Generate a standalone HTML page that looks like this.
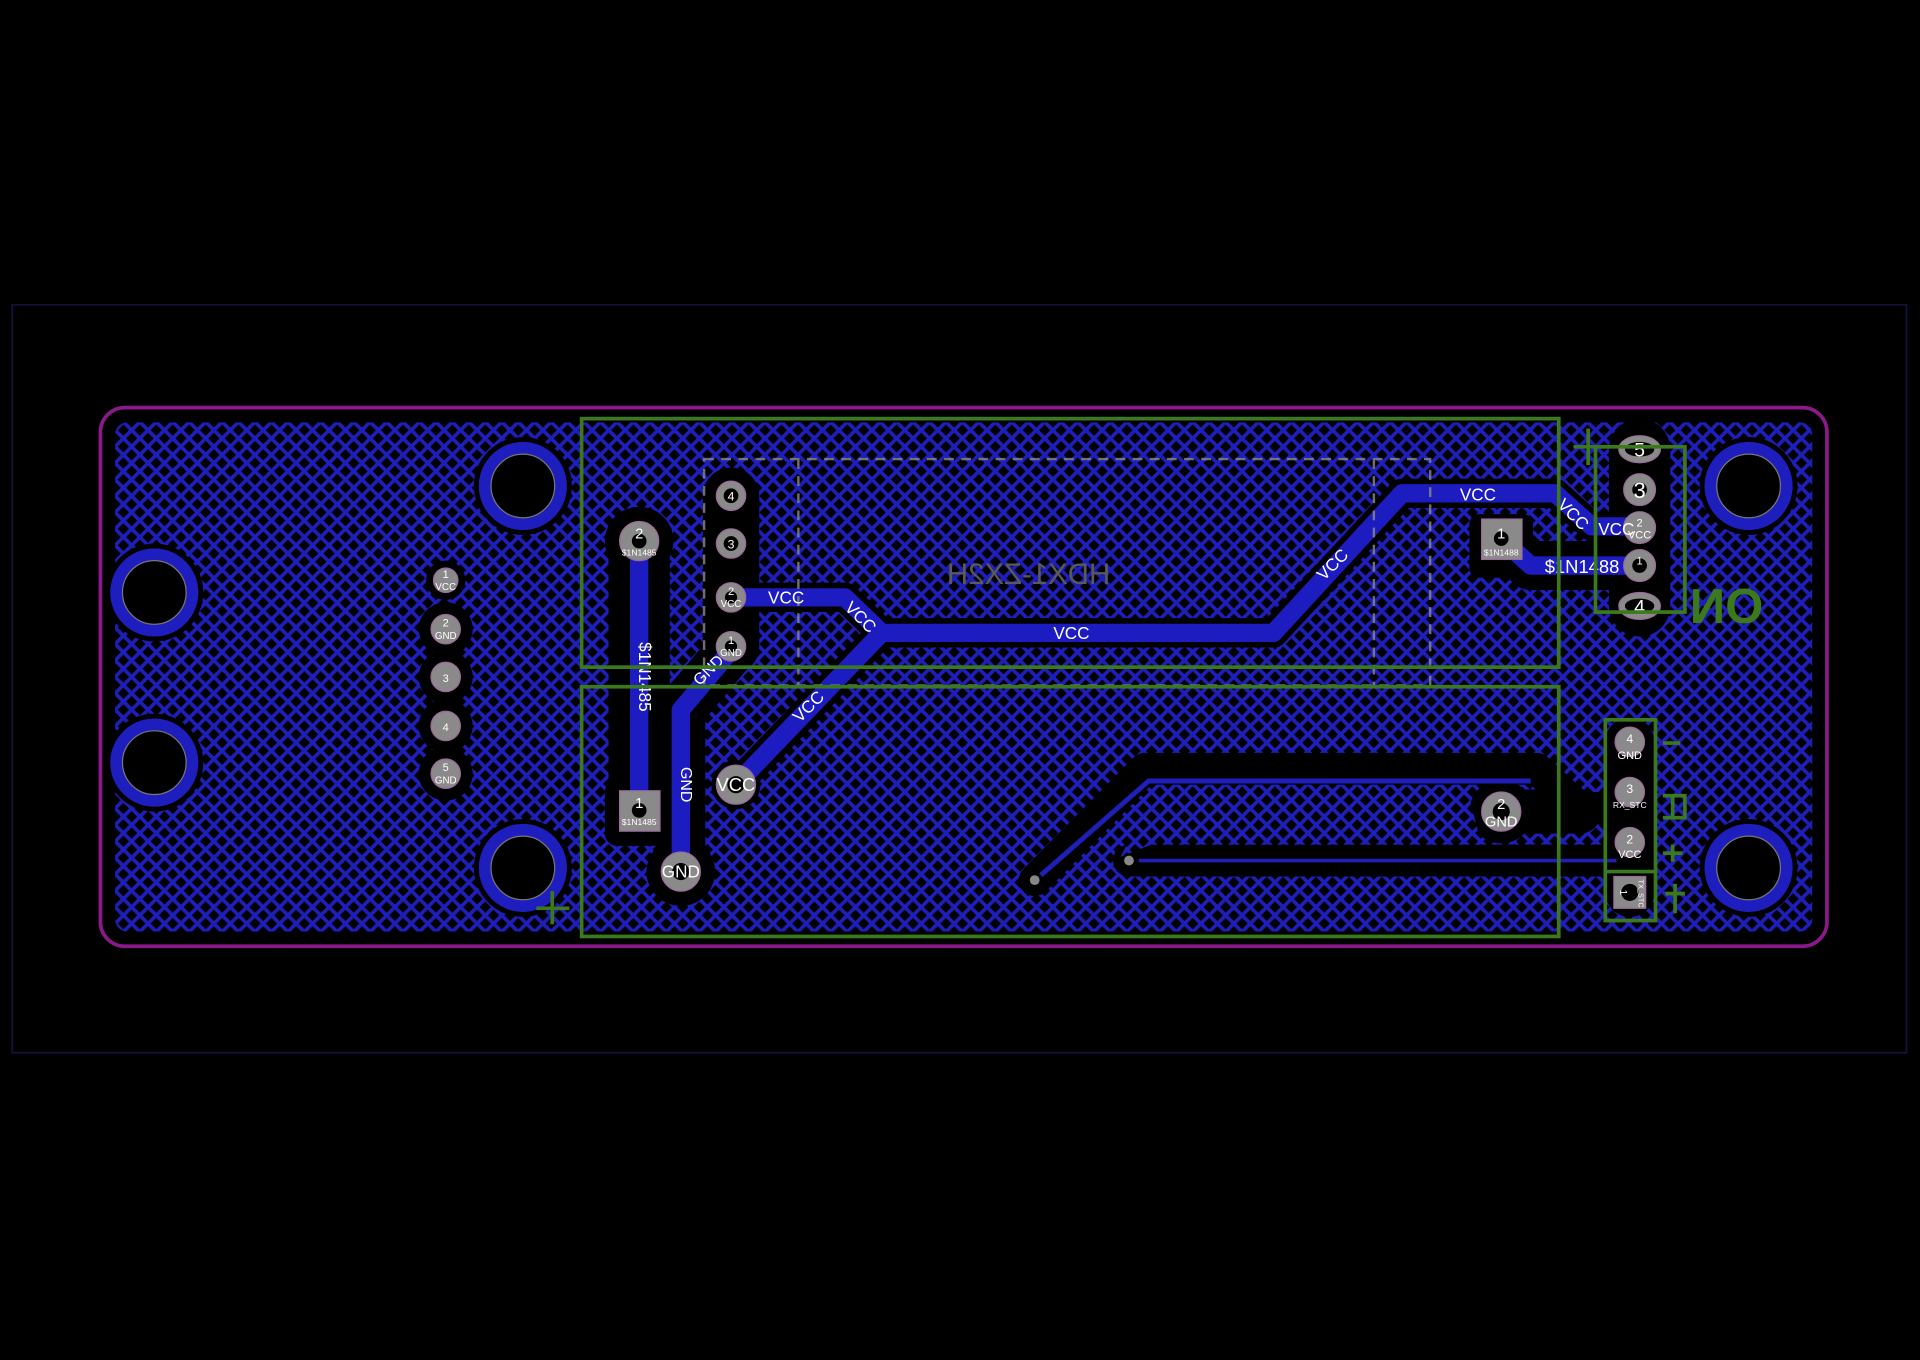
<!DOCTYPE html>
<html><head><meta charset="utf-8"><style>html,body{margin:0;padding:0;background:#000;}svg{display:block}</style></head>
<body>
<svg width="1920" height="1360" viewBox="0 0 1568 1111" preserveAspectRatio="none" xmlns="http://www.w3.org/2000/svg" font-family="Liberation Sans, DejaVu Sans, sans-serif">
<defs>
<pattern id="h" width="9.5" height="9.5" patternUnits="userSpaceOnUse" patternTransform="rotate(45)">
<rect width="9.5" height="9.5" fill="#000"/>
<rect x="0" y="0" width="3" height="9.5" fill="#1e1eb8"/>
<rect x="0" y="0" width="9.5" height="3" fill="#1e1eb8"/>
</pattern>
</defs>
<rect width="1568" height="1111" fill="#000"/>
<rect x="10" y="249" width="1547" height="611" fill="none" stroke="#12123a" stroke-width="1.5"/>
<rect x="82" y="333" width="1410" height="440" rx="20" fill="none" stroke="#8a1a8a" stroke-width="3"/>
<rect x="94" y="345" width="1386" height="416" rx="10" fill="url(#h)"/>

<g stroke="#000" stroke-linecap="round" stroke-linejoin="round" fill="none">
<path d="M522 442 V662" stroke-width="50"/>
<path d="M556 712 V580 L598 530" stroke-width="40"/>
<path d="M597 405 V528" stroke-width="46"/>
<path d="M597 488 H690 L720 517 H1040 L1145 403 H1270 L1300 430 H1338" stroke-width="24"/>
<path d="M601 641 L720 517" stroke-width="24"/>
<path d="M1226 440 L1250 462 H1338" stroke-width="40"/>
<path d="M1339 367 V495" stroke-width="50"/>
<path d="M845 719 L935 628 H1255 L1290 660 H1320" stroke-width="26"/>
<path d="M922 703 H1320" stroke-width="26"/>
<path d="M1226 663 H1290" stroke-width="36"/>
<path d="M1331 606 V729" stroke-width="40"/>
</g>
<g fill="#000">
<rect x="1200" y="420" width="52" height="52" rx="8"/>
<rect x="494" y="637" width="56" height="54" rx="10"/>
<circle cx="556" cy="712" r="28"/>
<circle cx="601" cy="641" r="20"/>
<circle cx="364" cy="474" r="16"/>
<circle cx="364" cy="514" r="22"/><circle cx="364" cy="553" r="22"/><circle cx="364" cy="593" r="22"/><circle cx="364" cy="632" r="22"/>
<circle cx="1226" cy="663" r="26"/>
<circle cx="522" cy="442" r="28"/>
</g>
<path d="M850 715 L938 638 H1250" stroke="#1e1eb8" stroke-width="4" fill="none"/>
<path d="M930 703 H1320" stroke="#1e1eb8" stroke-width="3" fill="none"/>
<path d="M940 652 H1200 L1210 690 H940 L915 700 Z" fill="url(#h)"/>

<g stroke="#777" stroke-width="1">
<g fill="#000" stroke="none">
<circle cx="427" cy="397" r="40"/><circle cx="427" cy="709" r="40"/><circle cx="1428" cy="397" r="40"/><circle cx="1428" cy="709" r="40"/><circle cx="126" cy="484" r="40"/><circle cx="126" cy="623" r="40"/>
</g>
<g fill="#1e1ebe" stroke="none">
<circle cx="427" cy="397" r="36"/><circle cx="427" cy="709" r="36"/><circle cx="1428" cy="397" r="36"/><circle cx="1428" cy="709" r="36"/><circle cx="126" cy="484" r="36"/><circle cx="126" cy="623" r="36"/>
</g>
<g fill="#000">
<circle cx="427" cy="397" r="26"/><circle cx="427" cy="709" r="26"/><circle cx="1428" cy="397" r="26"/><circle cx="1428" cy="709" r="26"/><circle cx="126" cy="484" r="26"/><circle cx="126" cy="623" r="26"/>
</g>
</g>

<g stroke="#1c1cc0" stroke-linecap="round" stroke-linejoin="round" fill="none">
<path d="M522 442 V662" stroke-width="15"/>
<path d="M556 712 V580 L598 530" stroke-width="15"/>
<path d="M597 488 H690 L720 517 H1040 L1145 403 H1270 L1300 430 H1338" stroke-width="15"/>
<path d="M601 641 L720 517" stroke-width="15"/>
<path d="M1226 440 L1250 462 H1338" stroke-width="15"/>
</g>

<g stroke="#8a8a8a" stroke-width="2" stroke-dasharray="8 6" fill="none" opacity="0.8">
<rect x="575" y="375" width="593" height="185"/>
<path d="M652 375 V560 M1122 375 V560"/>
</g>
<text x="840" y="477" font-size="24" fill="#5a5a5a" text-anchor="middle" transform="scale(-1,1) translate(-1680,0)">HDX1-ZX2H</text>

<g fill="#8a8a8a" stroke="#9a6a9a" stroke-width="1">
<circle cx="364" cy="474" r="10"/><circle cx="364" cy="514" r="12"/><circle cx="364" cy="553" r="12"/><circle cx="364" cy="593" r="12"/><circle cx="364" cy="632" r="12"/>
<circle cx="597" cy="405" r="12"/><circle cx="597" cy="444" r="12"/><circle cx="597" cy="488" r="12"/><circle cx="597" cy="528" r="12"/>
<circle cx="522" cy="442" r="16"/>
<rect x="506" y="646" width="33" height="33"/>
<circle cx="556" cy="712" r="16"/>
<circle cx="601" cy="641" r="16"/>
<circle cx="1226" cy="663" r="16"/>
<rect x="1210" y="424" width="33" height="33"/>
<ellipse cx="1339" cy="367" rx="17" ry="11"/><circle cx="1339" cy="400" r="13"/><circle cx="1339" cy="431" r="13"/><circle cx="1339" cy="462" r="13"/><ellipse cx="1339" cy="495" rx="17" ry="11"/>
<circle cx="1331" cy="606" r="12"/><circle cx="1331" cy="647" r="12"/><circle cx="1331" cy="688" r="12"/>
<rect x="1318" y="716" width="26" height="26"/>
</g>
<g fill="#000">
<circle cx="597" cy="405" r="6"/><circle cx="597" cy="444" r="6"/><circle cx="597" cy="528" r="5"/><circle cx="597" cy="488" r="5"/>
<circle cx="522" cy="442" r="6"/><circle cx="522" cy="662" r="6"/><circle cx="556" cy="712" r="7"/><circle cx="601" cy="641" r="7"/>
<circle cx="1226" cy="440" r="6"/><circle cx="1226" cy="663" r="7"/><circle cx="1331" cy="729" r="7"/>
<circle cx="1339" cy="462" r="6"/><circle cx="1339" cy="400" r="6"/>
<ellipse cx="1339" cy="367" rx="12" ry="6"/><ellipse cx="1339" cy="495" rx="12" ry="6"/>
</g>
<circle cx="845" cy="719" r="4" fill="#888"/><circle cx="922" cy="703" r="4" fill="#888"/>

<g fill="#fff" text-anchor="middle">
<text x="364" y="472" font-size="9">1</text><text x="364" y="482" font-size="8">VCC</text>
<text x="364" y="512" font-size="9">2</text><text x="364" y="522" font-size="8">GND</text>
<text x="364" y="557" font-size="9">3</text><text x="364" y="597" font-size="9">4</text>
<text x="364" y="630" font-size="9">5</text><text x="364" y="640" font-size="8">GND</text>
<text x="597" y="409" font-size="10">4</text><text x="597" y="448" font-size="10">3</text>
<text x="597" y="486" font-size="9">2</text><text x="597" y="496" font-size="8">VCC</text>
<text x="597" y="526" font-size="9">1</text><text x="597" y="536" font-size="8">GND</text>
<text x="522" y="440" font-size="12">2</text><text x="522" y="454" font-size="7">$1N1485</text>
<text x="522" y="660" font-size="12">1</text><text x="522" y="674" font-size="7">$1N1485</text>
<text x="556" y="717" font-size="14">GND</text>
<text x="601" y="646" font-size="15">VCC</text>
<text x="1226" y="661" font-size="12">2</text><text x="1226" y="675" font-size="12">GND</text>
<text x="1226" y="440" font-size="12">1</text><text x="1226" y="454" font-size="7">$1N1488</text>
<text x="1339" y="373" font-size="16">5</text><text x="1339" y="407" font-size="18">3</text>
<text x="1339" y="430" font-size="9">2</text><text x="1339" y="440" font-size="9">VCC</text>
<text x="1339" y="461" font-size="9">1</text>
<text x="1339" y="501" font-size="16">4</text>
<text x="1331" y="607" font-size="10">4</text><text x="1331" y="620" font-size="9">GND</text>
<text x="1331" y="648" font-size="10">3</text><text x="1331" y="660" font-size="7">RX_STC</text>
<text x="1331" y="689" font-size="10">2</text><text x="1331" y="701" font-size="9">VCC</text>
<text x="1327" y="733" font-size="8" transform="rotate(90 1327 729)">1</text>
<text x="1338" y="730" font-size="6" transform="rotate(90 1338 730)">TX_STC</text>
<text x="642" y="493" font-size="14">VCC</text>
<text x="875" y="522" font-size="14">VCC</text>
<text x="1207" y="409" font-size="14">VCC</text>
<text x="1320" y="437" font-size="14">VCC</text>
<text x="1292" y="468" font-size="15">$1N1488</text>
<text x="703" y="509" font-size="14" transform="rotate(45 703 504)">VCC</text>
<text x="1088" y="466" font-size="14" transform="rotate(-45 1088 461)">VCC</text>
<text x="1285" y="425" font-size="14" transform="rotate(45 1285 420)">VCC</text>
<text x="660" y="582" font-size="14" transform="rotate(-45 660 577)">VCC</text>
<text x="578" y="552" font-size="13" transform="rotate(-45 578 547)">GND</text>
<text x="556" y="641" font-size="13" transform="rotate(90 556 641)">GND</text>
<text x="522" y="553" font-size="14" transform="rotate(90 522 553)">$1N1485</text>
</g>

<g stroke="#3b7a1c" stroke-width="3" fill="none">
<rect x="475" y="342" width="798" height="203"/>
<rect x="475" y="561" width="798" height="204"/>
<rect x="1303" y="365" width="73" height="135"/>
<path d="M1297 350 V380 M1285 365 H1310"/>
<rect x="1311" y="588" width="41" height="164"/>
<path d="M1311 712 H1352"/>
<path d="M451 728 V755 M438 742 H465"/>
<path d="M1358 607 H1372 M1358 697 H1374 M1366 690 V704 M1360 730 H1376 M1368 722 V746 M1358 650 H1376 V668 H1358 M1366 650 V668"/>
</g>
<text x="1410" y="509" font-size="40" font-weight="bold" fill="#3b7a1c" text-anchor="middle" transform="scale(-1,1) translate(-2820,0)">ON</text>
</svg>
</body></html>
